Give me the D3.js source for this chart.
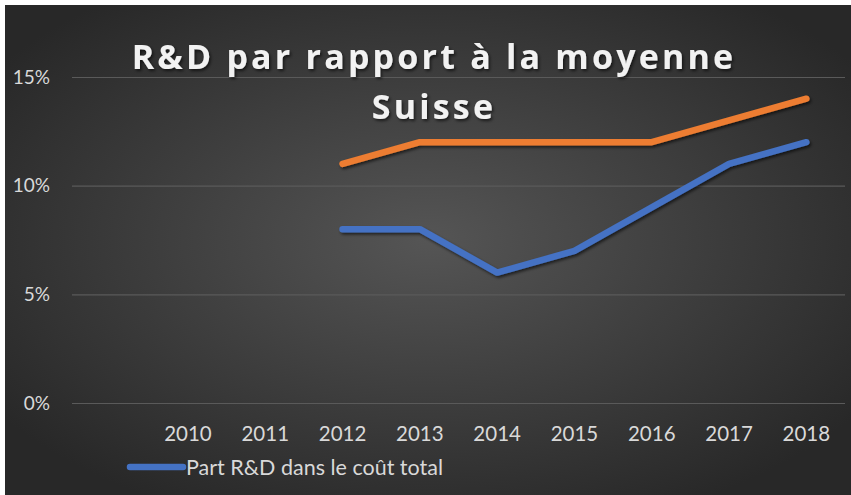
<!DOCTYPE html>
<html>
<head>
<meta charset="utf-8">
<script src="https://cdn.jsdelivr.net/npm/d3@7"></script>
<style>
  body { margin: 0; background: #fff; }
  svg { display: block; }
</style>
</head>
<body>
<div id="canvas"></div>
<script>
// data
var categories = ['', '2010', '2011', '2012', '2013', '2014', '2015', '2016', '2017', '2018'];
var yTicks = [0, 0.05, 0.10, 0.15];
var partRD = [null, null, null, 0.08, 0.08, 0.06, 0.07, 0.09, 0.11, 0.12];
var moyenneSuisse = [null, null, null, 0.11, 0.12, 0.12, 0.12, 0.12, 0.13, 0.14];
var seriesNames = ['Part R&D dans le coût total', 'Moyenne suisse'];
var titleLines = ['R&D par rapport à la moyenne', 'Suisse'];

var W = 851, H = 495;
var m = {t: 77, r: 5, b: 92, l: 72};

var svg = d3.select('#canvas').append('svg')
    .attr('width', W)
    .attr('height', H);

var defs = svg.append('defs');
var grad = defs.append('radialGradient')
    .attr('id', 'bg')
    .attr('cx', '50%').attr('cy', '48%').attr('r', '62%');
grad.append('stop').attr('offset', '0%').attr('stop-color', '#555555');
grad.append('stop').attr('offset', '100%').attr('stop-color', '#282828');

var shadow = defs.append('filter').attr('id', 'shadow')
    .attr('x', '-10%').attr('y', '-20%').attr('width', '130%').attr('height', '160%');
shadow.append('feDropShadow')
    .attr('dx', 1.5).attr('dy', 2).attr('stdDeviation', 1.5)
    .attr('flood-color', '#000').attr('flood-opacity', 0.6);

svg.append('rect')
    .attr('x', 5).attr('y', 5)
    .attr('width', W - 5).attr('height', H - 5)
    .attr('fill', 'url(#bg)');

var plot = svg.append('g')
    .attr('transform', 'translate(' + m.l + ',' + m.t + ')');
var w = W - m.l - m.r - 1,
    h = 403 - m.t;

//Scale
var scaleX = d3.scaleBand()
    .domain(categories)
    .range([0, w]);
var scaleY = d3.scaleLinear()
    .domain([0, 0.15])
    .range([h, 0]);

//Axis
var axisY = d3.axisLeft()
    .scale(scaleY)
    .tickValues(yTicks)
    .tickSize(-w)
    .tickFormat(d3.format('.0%'));
var axisX = d3.axisBottom()
    .scale(scaleX)
    .tickSize(0);

var gy = plot.append('g').attr('class', 'axis axis-y').call(axisY);
gy.select('.domain').remove();
gy.selectAll('line').attr('stroke', '#5a5a5a').attr('stroke-width', 1.2);
gy.selectAll('text')
    .attr('x', -22)
    .attr('fill', '#d9d9d9')
    .style('font-family', 'Lato, "Open Sans", sans-serif')
    .style('font-size', '19px');

var gx = plot.append('g').attr('class', 'axis axis-x')
    .attr('transform', 'translate(0,' + h + ')')
    .call(axisX);
gx.select('.domain').remove();
gx.selectAll('text')
    .attr('y', 23)
    .attr('dy', '0.71em')
    .attr('fill', '#d9d9d9')
    .style('font-family', 'Lato, "Open Sans", sans-serif')
    .style('font-size', '20.5px');

//Title
var title = svg.append('text')
    .attr('text-anchor', 'middle')
    .attr('fill', '#f2f2f2')
    .attr('filter', 'url(#shadow)')
    .style('font-family', '"Open Sans", Lato, sans-serif')
    .style('font-weight', 'bold')
    .style('font-size', '34px')
    .style('letter-spacing', '3.2px');
title.selectAll('tspan')
    .data(titleLines)
    .enter().append('tspan')
    .attr('x', 434)
    .attr('y', function(d, i){ return 69 + i * 50; })
    .text(function(d){ return d; });

//Lines
var lineGenerator = d3.line()
    .defined(function(d){ return d != null; })
    .x(function(d, i){ return scaleX(categories[i]) + scaleX.bandwidth() / 2; })
    .y(function(d){ return scaleY(d); });

var colors = ['#4472c4', '#ed7d31'];
[partRD, moyenneSuisse].forEach(function(s, k){
    plot.append('path')
        .datum(s)
        .attr('d', lineGenerator)
        .attr('fill', 'none')
        .attr('stroke', colors[k])
        .attr('stroke-width', 6.5)
        .attr('stroke-linecap', 'round')
        .attr('stroke-linejoin', 'round')
        .attr('filter', 'url(#shadow)');
});

//Legend (only first series shown)
var legend = svg.append('g').attr('transform', 'translate(128,467)');
legend.append('line')
    .attr('x1', 2).attr('x2', 55)
    .attr('stroke', colors[0])
    .attr('stroke-width', 6.5)
    .attr('stroke-linecap', 'round');
legend.append('text')
    .attr('x', 58)
    .attr('dy', '0.35em')
    .attr('fill', '#d9d9d9')
    .style('font-family', 'Lato, "Open Sans", sans-serif')
    .style('font-size', '21.5px')
    .text(seriesNames[0]);
</script>
</body>
</html>
